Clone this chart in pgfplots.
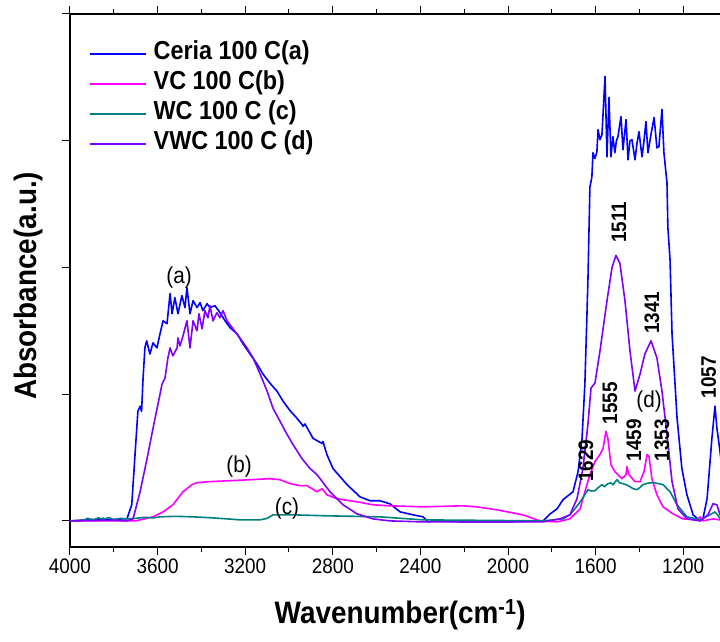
\documentclass[border=0pt]{standalone}
\usepackage{pgfplots}
\pgfplotsset{compat=1.18}
\usepackage{fontspec}
\setmainfont{Liberation Sans}[FakeStretch=0.9]
\definecolor{cblue}{RGB}{0,0,255}
\definecolor{cmag}{RGB}{255,0,255}
\definecolor{cteal}{RGB}{0,128,128}
\definecolor{cviol}{RGB}{128,0,255}
\begin{document}
\begin{tikzpicture}
\begin{axis}[
 scale only axis, width=650pt, height=533pt,
 x dir=reverse, xmin=1032, xmax=4000, ymin=-0.206, ymax=4,
 axis x line=box, axis y line=left,
 axis line style={-, line width=1.2pt},
 xtick={1200,1600,...,4000}, minor x tick num=1,
 scaled x ticks=false,
 ytick={0,1,2,3,4}, yticklabels={},
 /pgf/number format/assume math mode=true,
 /pgf/number format/set thousands separator={},
 x tick label style={font=\fontsize{21}{21}\selectfont},
 tick align=outside, major tick length=8pt, minor tick length=5pt,
 tick style={line width=1pt, black},
 xlabel={\bfseries Wavenumber(cm\textsuperscript{-1})},
 ylabel={\bfseries Absorbance(a.u.)},
 x label style={font=\fontsize{31}{31}\selectfont, at={(axis description cs:0.508,-0.128)}, anchor=center},
 y label style={font=\fontsize{31}{31}\selectfont, at={(axis description cs:-0.0646,0.49)}, anchor=center},
 legend style={at={(0.029,0.953)}, anchor=north west, draw=none, fill=none,
   font=\bfseries\fontsize{26}{26}\selectfont, row sep=0pt, inner sep=0pt,
   nodes={inner sep=0pt, text height=20pt, text depth=10pt}},
 legend cell align=left,
 legend image code/.code={\draw[#1] (0pt,0pt)--(56pt,0pt); \path (63pt,0pt);},
 every axis plot/.append style={line width=1.6pt, line join=round},
]
\coordinate (bl) at (axis description cs:0,0);
\coordinate (tr) at (axis description cs:1,1);
% Ceria 100 C (a)
\addplot[cblue] coordinates {
(4000,0) (3950,0.005) (3900,0.012) (3880,0.004) (3850,0.02) (3820,0.008) (3800,0.012) (3760,0.016) (3740,0.016)
(3718,0.127) (3703,0.524) (3690,0.865) (3680,0.905) (3673,0.865) (3667,1.103) (3658,1.365) (3650,1.421)
(3635,1.317) (3621,1.405) (3603,1.365) (3589,1.476) (3575,1.579) (3557,1.556) (3543,1.794) (3534,1.635)
(3521,1.762) (3507,1.635) (3489,1.778) (3475,1.683) (3466,1.841) (3452,1.635) (3438,1.738) (3420,1.683)
(3406,1.722) (3393,1.659) (3374,1.714) (3361,1.683) (3338,1.698) (3315,1.643) (3292,1.579) (3269,1.524)
(3237,1.476) (3210,1.397) (3178,1.317) (3146,1.238) (3119,1.159) (3087,1.087) (3055,1.024) (3027,0.944)
(2995,0.87) (2964,0.810) (2941,0.762) (2936,0.746) (2927,0.765) (2890,0.651) (2849,0.611) (2845,0.627)
(2827,0.524) (2799,0.413) (2735,0.286) (2676,0.190) (2630,0.159) (2585,0.159) (2539,0.135) (2493,0.071)
(2434,0.048) (2388,0.032) (2365,-0.008) (2343,0) (2200,-0.008) (2000,-0.008) (1854,0) (1840,0.0)
(1808,0.055) (1776,0.095) (1749,0.167) (1703,0.230) (1680,0.389) (1662,0.651) (1649,1.079) (1640,1.6)
(1635,1.9) (1626,2.635) (1617,2.714) (1612,2.905) (1603,2.86) (1594,2.913) (1589,3.087) (1580,3.008)
(1571,3.048) (1557,3.508) (1548,2.873) (1539,3.341) (1530,2.873) (1521,3.032) (1512,2.905) (1505,3.0)
(1498,3.032) (1484,3.190) (1475,2.929) (1461,3.167) (1452,2.849) (1443,3.0) (1434,3.008) (1420,2.849)
(1411,2.98) (1402,3.071) (1388,2.873) (1379,3.0) (1370,3.151) (1361,2.905) (1347,3.05) (1333,3.183)
(1320,2.944) (1311,2.952) (1297,3.246) (1288,2.905) (1274,2.667) (1270,2.317) (1260,2.056) (1251,1.476)
(1228,0.810) (1206,0.413) (1183,0.206) (1155,0.048) (1123,0) (1110,0.016) (1091,0.175) (1069,0.651)
(1055,0.905) (1046,0.730) (1032,0.548) (1015,0.3)};
\addlegendentry{Ceria 100 C(a)}
% VC 100 C (b)
\addplot[cmag] coordinates {
(4000,0) (3800,0.0) (3700,0.0) (3621,0.032) (3575,0.071) (3530,0.127) (3484,0.230) (3443,0.286)
(3420,0.302) (3361,0.310) (3269,0.317) (3178,0.325) (3087,0.333) (3041,0.325) (2995,0.294) (2950,0.278)
(2918,0.278) (2872,0.230) (2849,0.254) (2827,0.206) (2781,0.175) (2690,0.151) (2617,0.127) (2539,0.119)
(2388,0.111) (2206,0.119) (2142,0.111) (2050,0.087) (1932,0.048) (1854,0.0) (1776,-0.008) (1717,0.016)
(1671,0.095) (1649,0.230) (1626,0.365) (1603,0.468) (1580,0.524) (1566,0.571) (1553,0.706) (1544,0.651)
(1530,0.444) (1512,0.389) (1480,0.333) (1461,0.365) (1457,0.429) (1448,0.365) (1420,0.310) (1397,0.310)
(1379,0.389) (1365,0.524) (1356,0.508) (1343,0.333) (1320,0.206) (1292,0.111) (1247,0.056) (1201,0.016)
(1137,0.008) (1123,0.032) (1110,0.0) (1064,0.016) (1032,0.008) (1015,0.008)};
\addlegendentry{VC 100 C(b)}
% WC 100 C (c)
\addplot[cteal] coordinates {
(4000,0) (3940,0.004) (3920,0.02) (3895,0.008) (3870,0.024) (3850,0.012) (3820,0.026) (3800,0.008)
(3770,0.02) (3740,0.016) (3700,0.02) (3660,0.028) (3620,0.024) (3589,0.032) (3520,0.036) (3438,0.032)
(3350,0.024) (3283,0.016) (3224,0.008) (3132,0.008) (3100,0.02) (3073,0.048) (2982,0.048) (2827,0.040)
(2700,0.036) (2585,0.032) (2388,0.008) (2100,0.004) (1840,0.0) (1749,0.016) (1717,0.048) (1680,0.127)
(1649,0.206) (1635,0.246) (1620,0.236) (1603,0.238) (1590,0.26) (1571,0.286) (1560,0.27) (1544,0.294)
(1530,0.30) (1520,0.285) (1510,0.31) (1502,0.325) (1490,0.30) (1475,0.294) (1460,0.285) (1443,0.270)
(1430,0.255) (1411,0.246) (1400,0.26) (1384,0.286) (1360,0.298) (1338,0.302) (1315,0.295) (1292,0.286)
(1260,0.230) (1228,0.127) (1183,0.032) (1123,0.008) (1078,0.048) (1055,0.071) (1040,0.04) (1032,0.016) (1015,0.01)};
\addlegendentry{WC 100 C (c)}
% VWC 100 C (d)
\addplot[cviol] coordinates {
(4000,0) (3800,0.005) (3740,0.0) (3712,0.016) (3680,0.230) (3648,0.492) (3621,0.730) (3589,0.999)
(3580,1.079) (3566,1.127) (3553,1.286) (3543,1.365) (3530,1.302) (3511,1.365) (3507,1.444) (3498,1.381)
(3484,1.460) (3466,1.579) (3452,1.365) (3438,1.579) (3420,1.5) (3411,1.635) (3397,1.516) (3384,1.659)
(3370,1.603) (3361,1.698) (3347,1.579) (3329,1.643) (3315,1.603) (3301,1.659) (3283,1.579) (3256,1.516)
(3224,1.444) (3192,1.365) (3164,1.286) (3132,1.159) (3100,1.024) (3073,0.889) (3041,0.786) (3009,0.683)
(2982,0.603) (2941,0.492) (2904,0.413) (2872,0.365) (2813,0.230) (2753,0.127) (2690,0.056) (2617,0.016)
(2539,0.0) (2388,-0.008) (1840,-0.008) (1763,0.016) (1717,0.048) (1685,0.175) (1658,0.413) (1635,0.762)
(1621,1.048) (1603,1.087) (1580,1.341) (1548,1.738) (1525,2.0) (1507,2.095) (1489,2.032) (1466,1.738)
(1443,1.341) (1420,1.024) (1397,1.159) (1375,1.317) (1347,1.421) (1320,1.286) (1297,1.024) (1274,0.683)
(1251,0.310) (1224,0.095) (1183,0.016) (1123,0) (1087,0.048) (1064,0.135) (1046,0.127) (1032,0.048) (1015,0.02)};
\addlegendentry{VWC 100 C (d)}
% annotations
\begin{scope}[every node/.style={font=\fontsize{23}{23}\selectfont, inner sep=0pt}]
\node at (axis cs:3502,1.92) {(a)};
\node at (axis cs:3228,0.43) {(b)};
\node at (axis cs:3009,0.10) {(c)};
\node at (axis cs:1356,0.94) {(d)};
\end{scope}
\begin{scope}[every node/.style={font=\bfseries\fontsize{21}{21}\selectfont, rotate=90, inner sep=0pt}]
\node at (axis cs:1493,2.357) {1511};
\node at (axis cs:1343,1.643) {1341};
\node at (axis cs:1084,1.135) {1057};
\node at (axis cs:1534,0.929) {1555};
\node at (axis cs:1644,0.476) {1629};
\node at (axis cs:1425,0.635) {1459};
\node at (axis cs:1297,0.635) {1353};
\end{scope}
\end{axis}
\pgfresetboundingbox
\path ([shift={(-70pt,-95pt)}]bl) rectangle ([shift={(0pt,14pt)}]tr);
\end{tikzpicture}
\end{document}
